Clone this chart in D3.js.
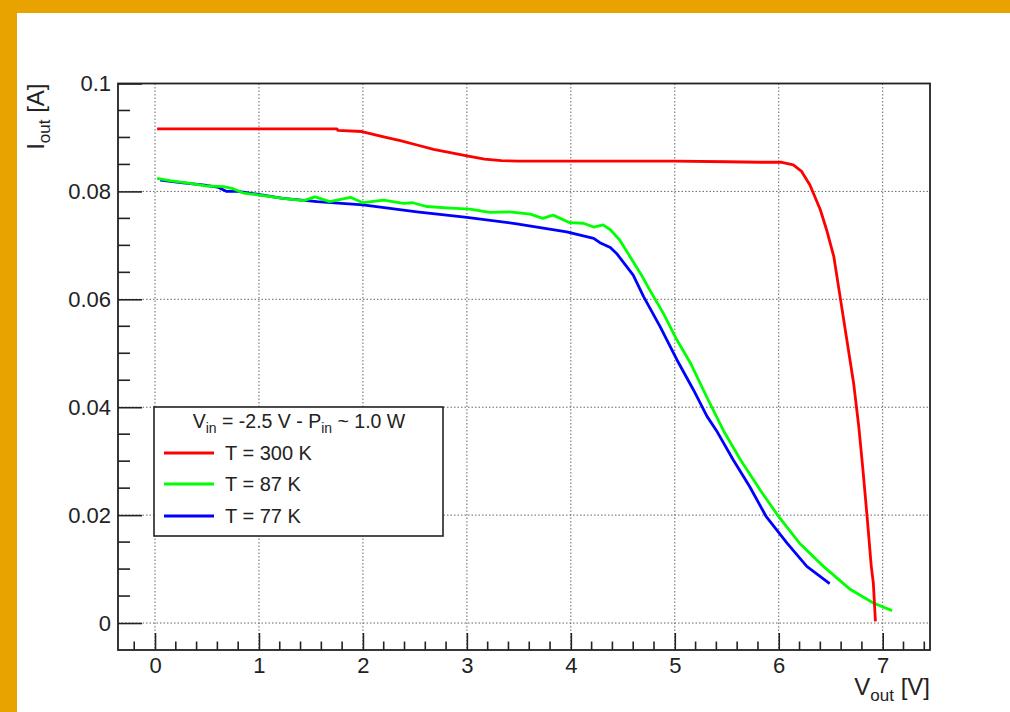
<!DOCTYPE html>
<html>
<head>
<meta charset="utf-8">
<script src="https://cdn.jsdelivr.net/npm/d3@7"></script>
<style>
  html, body { margin: 0; padding: 0; background: #fff; }
  svg { display: block; font-family: "Liberation Sans", Arial, Helvetica, sans-serif; }
</style>
</head>
<body>
<div id="chart"></div>
<script>
// T = 300 K
const v300 = [0.02, 0.5, 1.0, 1.5, 1.75, 1.76, 1.99, 2.2, 2.36, 2.52, 2.68, 2.84, 3.0, 3.17, 3.33, 3.5, 4.0, 4.5, 5.0, 5.5, 5.82, 6.03, 6.14, 6.22, 6.30, 6.40, 6.46, 6.53, 6.59, 6.65, 6.72, 6.77, 6.81, 6.85, 6.89, 6.91, 6.93];
const i300 = [0.0916, 0.0916, 0.0916, 0.0916, 0.0916, 0.0913, 0.0911, 0.0901, 0.0894, 0.0886, 0.0878, 0.0872, 0.0866, 0.0860, 0.0857, 0.0856, 0.0856, 0.0856, 0.0856, 0.0855, 0.0854, 0.0854, 0.0849, 0.0837, 0.0812, 0.0766, 0.0729, 0.0679, 0.0605, 0.0531, 0.0445, 0.0364, 0.0284, 0.0197, 0.0105, 0.0074, 0.0003];

// T = 87 K
const v87 = [0.02, 0.14, 0.34, 0.5, 0.66, 0.75, 0.85, 1.01, 1.23, 1.43, 1.54, 1.68, 1.88, 2.0, 2.2, 2.39, 2.48, 2.61, 2.84, 3.03, 3.22, 3.41, 3.61, 3.73, 3.83, 3.99, 4.12, 4.22, 4.31, 4.38, 4.47, 4.57, 4.67, 4.76, 4.89, 5.02, 5.15, 5.31, 5.47, 5.63, 5.82, 6.0, 6.2, 6.43, 6.69, 6.91, 7.09];
const i87 = [0.0824, 0.0820, 0.0815, 0.0810, 0.0809, 0.0805, 0.0797, 0.0793, 0.0787, 0.0783, 0.0790, 0.0781, 0.0789, 0.0779, 0.0784, 0.0778, 0.0779, 0.0772, 0.0769, 0.0767, 0.0761, 0.0762, 0.0758, 0.0750, 0.0756, 0.0742, 0.0741, 0.0734, 0.0738, 0.0729, 0.0710, 0.0679, 0.0648, 0.0617, 0.0574, 0.0525, 0.0482, 0.0418, 0.0356, 0.0303, 0.0247, 0.0197, 0.0148, 0.0105, 0.0062, 0.0037, 0.0023];

// T = 77 K
const v77 = [0.05, 0.27, 0.46, 0.6, 0.69, 0.8, 0.91, 1.23, 1.56, 2.0, 2.52, 3.0, 3.48, 3.96, 4.22, 4.28, 4.38, 4.44, 4.60, 4.70, 4.86, 5.02, 5.18, 5.31, 5.40, 5.56, 5.72, 5.88, 6.08, 6.27, 6.49];
const i77 = [0.0821, 0.0816, 0.0812, 0.0808, 0.0800, 0.0800, 0.0797, 0.0787, 0.0781, 0.0775, 0.0762, 0.0752, 0.0740, 0.0725, 0.0713, 0.0705, 0.0696, 0.0685, 0.0645, 0.0605, 0.0549, 0.0488, 0.0432, 0.0383, 0.0357, 0.0303, 0.0253, 0.0197, 0.0148, 0.0105, 0.0073];

const xTicks = [0, 1, 2, 3, 4, 5, 6, 7];
const yTicks = [0, 0.02, 0.04, 0.06, 0.08, 0.1];
const yTickLabels = ["0", "0.02", "0.04", "0.06", "0.08", "0.1"];

const seriesNames = ["T = 300 K", "T = 87 K", "T = 77 K"];
const seriesColors = ["#ff0000", "#00ff00", "#0000ff"];

const W = 1010, H = 712;
const frame = { left: 118, right: 930, top: 83.5, bottom: 650 };

const svg = d3.select("#chart").append("svg")
  .attr("width", W).attr("height", H);

// orange surround
svg.append("rect").attr("width", W).attr("height", H).attr("fill", "#fff");
svg.append("rect").attr("x", 0).attr("y", 0).attr("width", W).attr("height", 13).attr("fill", "#e8a300");
svg.append("rect").attr("x", 0).attr("y", 0).attr("width", 17).attr("height", H).attr("fill", "#e8a300");

const x = d3.scaleLinear().domain([-0.356, 7.455]).range([frame.left, frame.right]);
const y = d3.scaleLinear().domain([-0.005, 0.1]).range([frame.bottom, frame.top]);

// grid
const grid = svg.append("g").attr("stroke", "#666").attr("stroke-width", 1)
  .attr("stroke-dasharray", "1.5,2");
grid.selectAll("line.gx").data(xTicks).join("line")
  .attr("x1", d => x(d)).attr("x2", d => x(d))
  .attr("y1", frame.top).attr("y2", frame.bottom);
grid.selectAll("line.gy").data(yTicks).join("line")
  .attr("y1", d => y(d)).attr("y2", d => y(d))
  .attr("x1", frame.left).attr("x2", frame.right);

// curves, red on top as in the reference
const line = d3.line().x(d => x(d[0])).y(d => y(d[1]));
const curves = [d3.zip(v300, i300), d3.zip(v87, i87), d3.zip(v77, i77)];
const order = [2, 1, 0];
svg.append("g").selectAll("path").data(order).join("path")
  .attr("d", k => line(curves[k]))
  .attr("fill", "none")
  .attr("stroke", k => seriesColors[k])
  .attr("stroke-width", 2.8)
  .attr("stroke-linejoin", "round");

// axes: ROOT-style inward ticks
const xMinor = d3.range(-0.2, 7.45, 0.2).map(v => +v.toFixed(2)).filter(v => Math.abs(v - Math.round(v)) > 1e-6);
const yMinor = d3.range(0, 0.1, 0.005).map(v => +v.toFixed(3)).filter(v => yTicks.every(t => Math.abs(t - v) > 1e-6));

const xAxis = d3.axisBottom(x).tickValues(xTicks).tickSize(-17).tickPadding(7).tickFormat(d3.format("d"));
const gx = svg.append("g").attr("transform", `translate(0,${frame.bottom})`).call(xAxis);
gx.select(".domain").remove();
gx.selectAll(".tick line").attr("stroke", "#222").attr("stroke-width", 1.6);
gx.selectAll(".tick text").attr("font-size", 22).attr("fill", "#222")
  .attr("font-family", "Liberation Sans, Arial, sans-serif");
svg.append("g").selectAll("line").data(xMinor).join("line")
  .attr("x1", d => x(d)).attr("x2", d => x(d))
  .attr("y1", frame.bottom).attr("y2", frame.bottom - 8.5)
  .attr("stroke", "#222").attr("stroke-width", 1.6);

const yAxis = d3.axisLeft(y).tickValues(yTicks).tickSize(-24).tickPadding(7)
  .tickFormat((d, i) => yTickLabels[i]);
const gy = svg.append("g").attr("transform", `translate(${frame.left},0)`).call(yAxis);
gy.select(".domain").remove();
gy.selectAll(".tick line").attr("stroke", "#222").attr("stroke-width", 1.6);
gy.selectAll(".tick text").attr("font-size", 22).attr("fill", "#222")
  .attr("font-family", "Liberation Sans, Arial, sans-serif");
svg.append("g").selectAll("line").data(yMinor).join("line")
  .attr("y1", d => y(d)).attr("y2", d => y(d))
  .attr("x1", frame.left).attr("x2", frame.left + 12)
  .attr("stroke", "#222").attr("stroke-width", 1.6);

// frame
svg.append("rect")
  .attr("x", frame.left).attr("y", frame.top)
  .attr("width", frame.right - frame.left).attr("height", frame.bottom - frame.top)
  .attr("fill", "none").attr("stroke", "#222").attr("stroke-width", 1.8);

// axis titles
const xt = svg.append("text").attr("x", frame.right).attr("y", 695)
  .attr("text-anchor", "end").attr("font-size", 24).attr("fill", "#222");
xt.append("tspan").text("V");
xt.append("tspan").attr("font-size", 17).attr("dy", 6).text("out");
xt.append("tspan").attr("dy", -6).text(" [V]");

const yt = svg.append("text")
  .attr("transform", `translate(44,${frame.top}) rotate(-90)`)
  .attr("text-anchor", "end").attr("font-size", 24).attr("fill", "#222");
yt.append("tspan").text("I");
yt.append("tspan").attr("font-size", 17).attr("dy", 6).text("out");
yt.append("tspan").attr("dy", -6).text(" [A]");

// legend
const lg = svg.append("g");
lg.append("rect").attr("x", 154).attr("y", 407).attr("width", 289).attr("height", 129)
  .attr("fill", "#fff").attr("stroke", "#222").attr("stroke-width", 1.6);
const lt = lg.append("text").attr("x", 299).attr("y", 428).attr("text-anchor", "middle")
  .attr("font-size", 19.5).attr("fill", "#222");
lt.append("tspan").text("V");
lt.append("tspan").attr("font-size", 14).attr("dy", 5).text("in");
lt.append("tspan").attr("dy", -5).text(" = -2.5 V - P");
lt.append("tspan").attr("font-size", 14).attr("dy", 5).text("in");
lt.append("tspan").attr("dy", -5).text(" ~ 1.0 W");

const rowY = [453, 484, 516];
const rows = lg.selectAll("g.row").data(seriesNames).join("g");
rows.append("line")
  .attr("x1", 164).attr("x2", 214)
  .attr("y1", (d, i) => rowY[i]).attr("y2", (d, i) => rowY[i])
  .attr("stroke", (d, i) => seriesColors[i]).attr("stroke-width", 2.8);
rows.append("text")
  .attr("x", 225).attr("y", (d, i) => rowY[i] + 7)
  .attr("font-size", 20).attr("fill", "#222")
  .text(d => d);
</script>
</body>
</html>
